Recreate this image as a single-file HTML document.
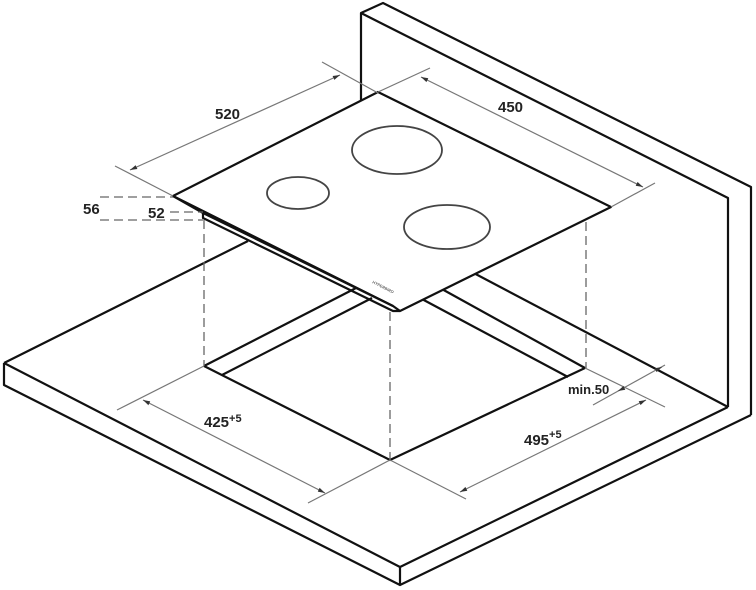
<!DOCTYPE html>
<html><head><meta charset="utf-8"><style>
html,body{margin:0;padding:0;background:#fff;}
svg{display:block;}
text{font-family:"Liberation Sans",Arial,sans-serif;font-weight:bold;fill:#222;}
</style></head><body>
<svg width="756" height="590" viewBox="0 0 756 590" xmlns="http://www.w3.org/2000/svg">
<defs>
<marker id="a" viewBox="0 0 10 10" refX="10" refY="5" markerWidth="6" markerHeight="6" orient="auto-start-reverse"><path d="M0,2 L10,5 L0,8z" fill="#333"/></marker>
</defs>
<g fill="none" stroke="#111" stroke-width="2.2" stroke-linejoin="round">
<!-- wall -->
<path d="M361,100 L361,13 L383,3 L751,187 L751,415"/>
<path d="M361,13 L728,198 L728,407"/>
<!-- countertop -->
<path d="M4,363 L4,385 L400,585 L751,415"/>
<path d="M4,363 L400,567 L728,407"/>
<path d="M400,567 L400,585"/>
<path d="M4,363 L248,241"/>
<path d="M728,407 L468,270"/>
<!-- cutout -->
<path d="M204,366 L390,460 L585,368"/>
<path d="M204,366 L356,288"/>
<path d="M222,375 L372,298"/>
<path d="M585,368 L440,288"/>
<path d="M568,377 L420,298"/>
<!-- hob -->
<path d="M173,196 L378,92 L611,207 L400,311 L393,306 Z" fill="#fff"/>
<path d="M173,196 L203,213 L203,218 L393,311 L400,311"/>
<path d="M203,213 L393,306"/>
</g>
<g fill="none" stroke="#444" stroke-width="1.8">
<ellipse cx="397" cy="150" rx="45" ry="24"/>
<ellipse cx="298" cy="193" rx="31" ry="16"/>
<ellipse cx="447" cy="227" rx="43" ry="22"/>
</g>
<text x="372" y="283" font-size="4" transform="rotate(27 372 283)" style="font-weight:normal">HYPERBIRD</text>
<!-- dashed -->
<g stroke="#666" stroke-width="1.3" stroke-dasharray="9,5" fill="none">
<path d="M204,220 L204,366"/>
<path d="M390,312 L390,460"/>
<path d="M586,222 L586,368"/>
<path d="M100,197 L173,197"/>
<path d="M100,220 L203,220"/>
<path d="M170,212 L203,212"/>
</g>
<!-- dimension lines -->
<g stroke="#777" stroke-width="1.2" fill="none">
<path d="M115,166 L173,196"/>
<path d="M322,62 L378,93"/>
<path d="M130,170 L340,75" marker-start="url(#a)" marker-end="url(#a)"/>
<path d="M378,92 L430,68"/>
<path d="M611,207 L655,183"/>
<path d="M421,77 L643,187" marker-start="url(#a)" marker-end="url(#a)"/>
<path d="M204,366 L117,410"/>
<path d="M390,460 L308,503"/>
<path d="M143,400 L325,493" marker-start="url(#a)" marker-end="url(#a)"/>
<path d="M390,460 L466,499"/>
<path d="M585,368 L665,407"/>
<path d="M460,492 L646,400" marker-start="url(#a)" marker-end="url(#a)"/>
<path d="M593,405 L665,365"/>
<path d="M620,390 L618,391" marker-end="url(#a)"/>
<path d="M660,368 L662,367" marker-end="url(#a)"/>
</g>
<text x="215" y="119" font-size="15">520</text>
<text x="498" y="112" font-size="15">450</text>
<text x="83" y="214" font-size="15">56</text>
<text x="148" y="218" font-size="15">52</text>
<text x="204" y="427" font-size="15">425<tspan font-size="11" dy="-5">+5</tspan></text>
<text x="524" y="445" font-size="15">495<tspan font-size="11" dy="-7">+5</tspan></text>
<text x="568" y="394" font-size="13">min.50</text>
</svg>
</body></html>
